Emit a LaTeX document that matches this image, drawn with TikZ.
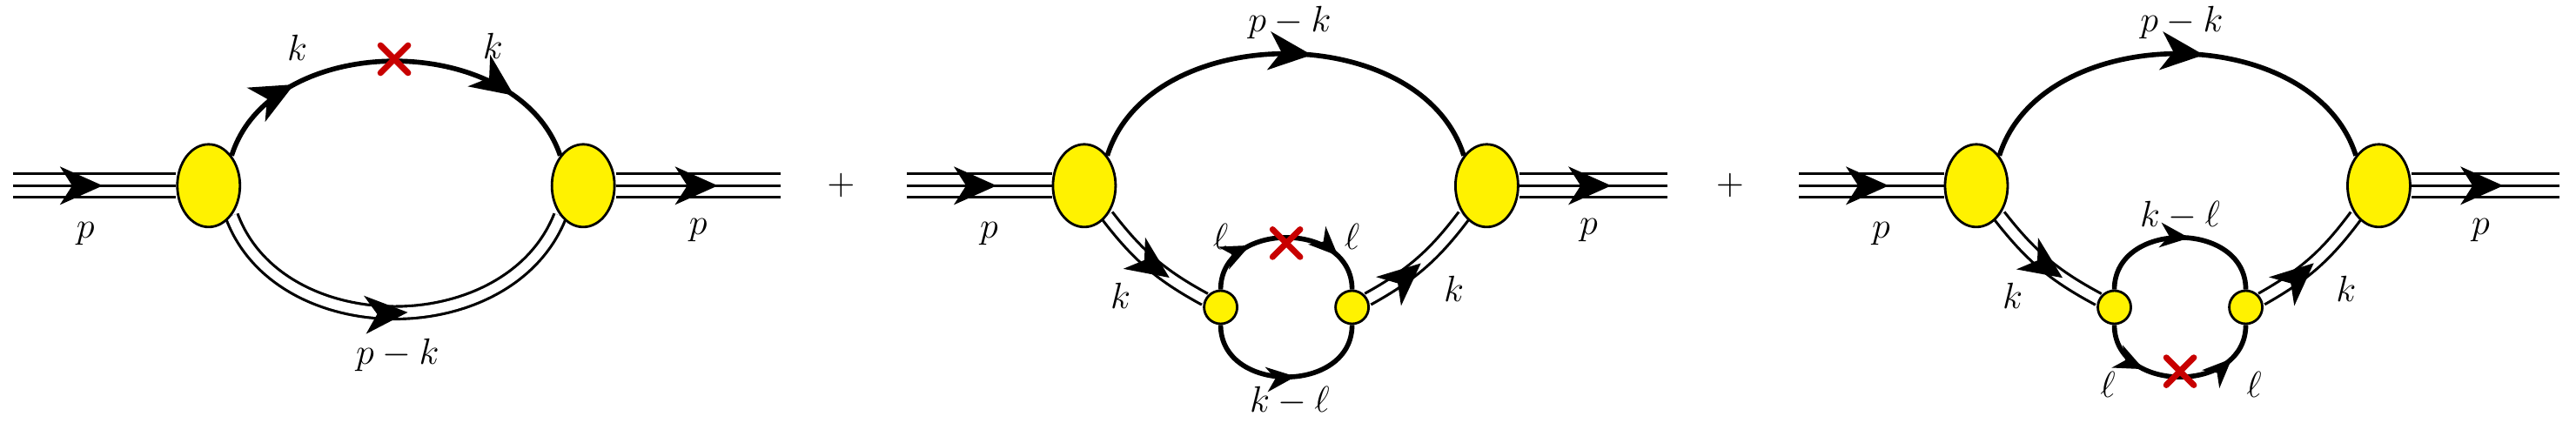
\documentclass[tikz,border=0pt]{standalone}
\usetikzlibrary{shapes.geometric,shapes.misc,arrows.meta,decorations.markings,backgrounds}
\definecolor{xred}{RGB}{200,0,0}
\tikzset{
 sline/.style={line width=1.6pt},
 dline/.style={line width=0.9pt, double distance=3.2pt},
 tline/.style={line width=0.9pt, double distance=6.8pt},
 cline/.style={line width=0.9pt},
 blob/.style={ellipse, draw, line width=0.8pt, fill=yellow, minimum width=0.72cm, minimum height=0.95cm, inner sep=0pt},
 sblob/.style={circle, draw, line width=0.8pt, fill=yellow, minimum size=0.38cm, inner sep=0pt},
 marr/.style={postaction={decorate, decoration={markings, mark=at position #1 with {\arrow{Stealth[length=14pt,width=12.5pt,inset=4pt,color=black,fill=black]}}}}},
 sarr/.style={postaction={decorate, decoration={markings, mark=at position #1 with {\arrow{Stealth[length=9.5pt,width=8pt,inset=2.8pt,color=black,fill=black]}}}}},
 xmark/.style={cross out, draw=xred, line width=2pt, line cap=round, minimum size=7pt, inner sep=0pt},
 lab/.style={inner sep=0pt, font=\fontsize{12.5}{15}\selectfont}
}
\begin{document}
\begin{tikzpicture}[x=0.01888cm,y=-0.01888cm]
\useasboundingbox (0,0) rectangle (1568,257.4);
% ---------- diagram 1
\node[blob] (L1) at (127,113) {};
\node[blob] (R1) at (355,113) {};
\coordinate (a1) at (8,113);
\coordinate (b1) at (475,113);
\node[xmark] (X1) at (240,36) {};
\begin{scope}[on background layer]
\draw[tline] (a1) -- (L1.west); \draw[cline] (a1) -- (L1.west);
\path[marr=0.55] (a1) -- (L1.west);
\draw[tline] (R1.east) -- (b1); \draw[cline] (R1.east) -- (b1);
\path[marr=0.62] (R1.east) -- (b1);
\draw[sline, marr=0.24, marr=0.81] (L1.north east) .. controls (165,18) and (315,18) .. (R1.north west);
\draw[dline] (L1.south east) .. controls (170,210) and (310,210) .. (R1.south west);
\path[marr=0.53] (L1.south east) .. controls (170,210) and (310,210) .. (R1.south west);
\end{scope}
\node[lab] (p1a) at (52,142) {$p$};
\node[lab] (p1b) at (425,140) {$p$};
\node[lab] (k1a) at (181,29) {$k$};
\node[lab] (k1b) at (300,28) {$k$};
\node[lab] (pk1) at (242,216) {$p-k$};
\node[lab] (plus1) at (512,113) {$+$};
% ---------- diagram 2
\node[blob] (L2) at (660,113) {};
\node[blob] (R2) at (905,113) {};
\node[sblob] (A2) at (743,187) {};
\node[sblob] (B2) at (823,187) {};
\coordinate (a2) at (552,113);
\coordinate (b2) at (1015,113);
\node[xmark] (X2) at (783,148) {};
\begin{scope}[on background layer]
\draw[tline] (a2) -- (L2.west); \draw[cline] (a2) -- (L2.west);
\path[marr=0.62] (a2) -- (L2.west);
\draw[tline] (R2.east) -- (b2); \draw[cline] (R2.east) -- (b2);
\path[marr=0.62] (R2.east) -- (b2);
\draw[sline, marr=0.56] (L2.north east) .. controls (700,12) and (865,12) .. (R2.north west);
\draw[dline] (L2.south east) to[bend right=12] (A2);
\path[marr=0.68] (L2.south east) to[bend right=12] (A2);
\draw[dline] (B2) to[bend right=12] (R2.south west);
\path[marr=0.5] (B2) to[bend right=12] (R2.south west);
\draw[sline, sarr=0.3, sarr=0.8] (A2) .. controls (743,134) and (823,134) .. (B2);
\draw[sline, sarr=0.55] (A2) .. controls (743,240) and (823,240) .. (B2);
\end{scope}
\node[lab] (p2a) at (602,142) {$p$};
\node[lab] (p2b) at (967,140) {$p$};
\node[lab] (pk2) at (785,14) {$p-k$};
\node[lab] (k2a) at (682,180) {$k$};
\node[lab] (k2b) at (885,176) {$k$};
\node[lab] (l2a) at (743,144) {$\ell$};
\node[lab] (l2b) at (823,144) {$\ell$};
\node[lab] (kl2) at (785,244) {$k-\ell$};
\node[lab] (plus2) at (1053,113) {$+$};
% ---------- diagram 3
\node[blob] (L3) at (1203,113) {};
\node[blob] (R3) at (1448,113) {};
\node[sblob] (A3) at (1287,187) {};
\node[sblob] (B3) at (1367,187) {};
\coordinate (a3) at (1095,113);
\coordinate (b3) at (1558,113);
\node[xmark] (X3) at (1327,226) {};
\begin{scope}[on background layer]
\draw[tline] (a3) -- (L3.west); \draw[cline] (a3) -- (L3.west);
\path[marr=0.62] (a3) -- (L3.west);
\draw[tline] (R3.east) -- (b3); \draw[cline] (R3.east) -- (b3);
\path[marr=0.62] (R3.east) -- (b3);
\draw[sline, marr=0.56] (L3.north east) .. controls (1243,12) and (1408,12) .. (R3.north west);
\draw[dline] (L3.south east) to[bend right=12] (A3);
\path[marr=0.68] (L3.south east) to[bend right=12] (A3);
\draw[dline] (B3) to[bend right=12] (R3.south west);
\path[marr=0.5] (B3) to[bend right=12] (R3.south west);
\draw[sline, sarr=0.55] (A3) .. controls (1287,134) and (1367,134) .. (B3);
\draw[sline, sarr=0.3, sarr=0.8] (A3) .. controls (1287,240) and (1367,240) .. (B3);
\end{scope}
\node[lab] (p3a) at (1145,142) {$p$};
\node[lab] (p3b) at (1510,140) {$p$};
\node[lab] (pk3) at (1328,14) {$p-k$};
\node[lab] (k3a) at (1225,180) {$k$};
\node[lab] (k3b) at (1428,176) {$k$};
\node[lab] (kl3) at (1327,131) {$k-\ell$};
\node[lab] (l3a) at (1283,234) {$\ell$};
\node[lab] (l3b) at (1372,234) {$\ell$};
\end{tikzpicture}
\end{document}
